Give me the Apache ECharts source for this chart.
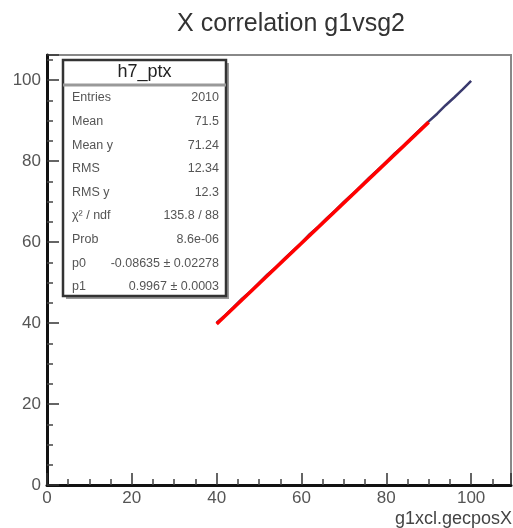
<!DOCTYPE html>
<html>
<head>
<meta charset="utf-8">
<script src="https://cdn.jsdelivr.net/npm/echarts@6/dist/echarts.min.js"></script>
<style>
html,body{margin:0;padding:0;background:#fff;}
#c{width:513px;height:528px;}
</style>
</head>
<body>
<div id="c"></div>
<script>
// Scatter trace (dark points along diagonal)
var scatterX = [40, 42, 44, 46, 48, 50, 52, 54, 56, 58, 60, 62, 64, 66, 68, 70, 72, 74, 76, 78, 80, 82, 84, 86, 88, 90, 92, 94, 96, 98, 100];
var scatterY = [40.1, 41.9, 43.9, 46.0, 47.8, 49.9, 52.0, 53.8, 55.9, 57.9, 59.8, 62.0, 63.8, 65.9, 67.8, 69.9, 71.8, 73.8, 75.9, 77.8, 79.8, 81.9, 83.7, 85.8, 87.8, 89.8, 91.7, 93.8, 95.7, 97.7, 99.8];
// Linear fit (red) drawn over range 40..90
var fitX = [40, 90];
var fitY = [39.78, 89.62];
// Axis ticks
var xTicks = [0, 20, 40, 60, 80, 100];
var yTicks = [0, 20, 40, 60, 80, 100];
// Stats box
var statsTitle = "h7_ptx";
var statsLabels = ["Entries", "Mean", "Mean y", "RMS", "RMS y", "\u03C7\u00B2 / ndf", "Prob", "p0", "p1"];
var statsValues = ["2010", "71.5", "71.24", "12.34", "12.3", "135.8 / 88", "8.6e-06", "-0.08635 \u00B1 0.02278", "0.9967 \u00B1 0.0003"];

var chart = echarts.init(document.getElementById('c'), null, {renderer: 'canvas'});

var scatterData = scatterX.map(function (x, i) { return [x, scatterY[i]]; });
var fitData = fitX.map(function (x, i) { return [x, fitY[i]]; });

var FONT = '"Liberation Sans", Arial, sans-serif';
var boxL = 63, boxT = 60, boxW = 163, boxH = 236;
var rowTop = 98, rowStep = 23.6;
var graphics = [];
graphics.push({type: 'rect', shape: {x: boxL + 3, y: boxT + 3, width: boxW, height: boxH}, style: {fill: '#999'}, z: 10});
graphics.push({type: 'rect', shape: {x: boxL, y: boxT, width: boxW, height: boxH}, style: {fill: '#fff', stroke: '#333', lineWidth: 2.5}, z: 11});
graphics.push({type: 'line', shape: {x1: boxL, y1: 85, x2: boxL + boxW, y2: 85}, style: {stroke: '#999', lineWidth: 3}, z: 12});
graphics.push({type: 'text', x: boxL + boxW / 2, y: 72, style: {text: statsTitle, fill: '#222', font: '18px ' + FONT, textAlign: 'center', textVerticalAlign: 'middle'}, z: 13});
statsLabels.forEach(function (lab, i) {
  var y = rowTop + i * rowStep;
  graphics.push({type: 'text', x: boxL + 9, y: y, style: {text: lab, fill: '#555', font: '12.5px ' + FONT, textAlign: 'left', textVerticalAlign: 'middle'}, z: 13});
  graphics.push({type: 'text', x: boxL + boxW - 7, y: y, style: {text: statsValues[i], fill: '#555', font: '12.5px ' + FONT, textAlign: 'right', textVerticalAlign: 'middle'}, z: 13});
});
graphics.push({type: 'text', x: 512, y: 519, style: {text: 'g1xcl.gecposX', fill: '#444', font: '18px ' + FONT, textAlign: 'right', textVerticalAlign: 'middle'}, z: 13});

var axisCommon = {
  type: 'value',
  min: 0,
  interval: 20,
  axisLine: {show: true, lineStyle: {color: '#111', width: 3}},
  axisTick: {show: true, inside: true, length: 12, lineStyle: {color: '#333', width: 1.5}},
  minorTick: {show: true, splitNumber: 4, length: 6, lineStyle: {color: '#444', width: 1.5}},
  splitLine: {show: false},
  axisLabel: {color: '#555', fontSize: 17, fontFamily: FONT, showMaxLabel: false}
};

chart.setOption({
  animation: false,
  backgroundColor: '#fff',
  title: {
    text: 'X correlation g1vsg2',
    left: 286, top: 7, textAlign: 'center',
    textStyle: {fontSize: 25, fontWeight: 'normal', color: '#333', fontFamily: FONT}
  },
  grid: {left: 47, top: 55, right: 2, bottom: 43, show: true, borderColor: '#888', borderWidth: 2, backgroundColor: '#fff'},
  xAxis: Object.assign({}, axisCommon, {max: 109.4, axisLabel: Object.assign({}, axisCommon.axisLabel, {margin: 5,
    formatter: function (v) { return xTicks.indexOf(v) >= 0 ? String(v) : ''; }})}),
  yAxis: Object.assign({}, axisCommon, {max: 106.2, axisLabel: Object.assign({}, axisCommon.axisLabel, {margin: 6,
    formatter: function (v) { return yTicks.indexOf(v) >= 0 ? String(v) : ''; }})}),
  series: [
    {type: 'line', data: scatterData, symbol: 'none', lineStyle: {color: '#3a3a6e', width: 2.5}, z: 2},
    {type: 'line', data: fitData, symbol: 'none', lineStyle: {color: '#ff0000', width: 3.5}, z: 3}
  ],
  graphic: graphics
});
</script>
</body>
</html>
